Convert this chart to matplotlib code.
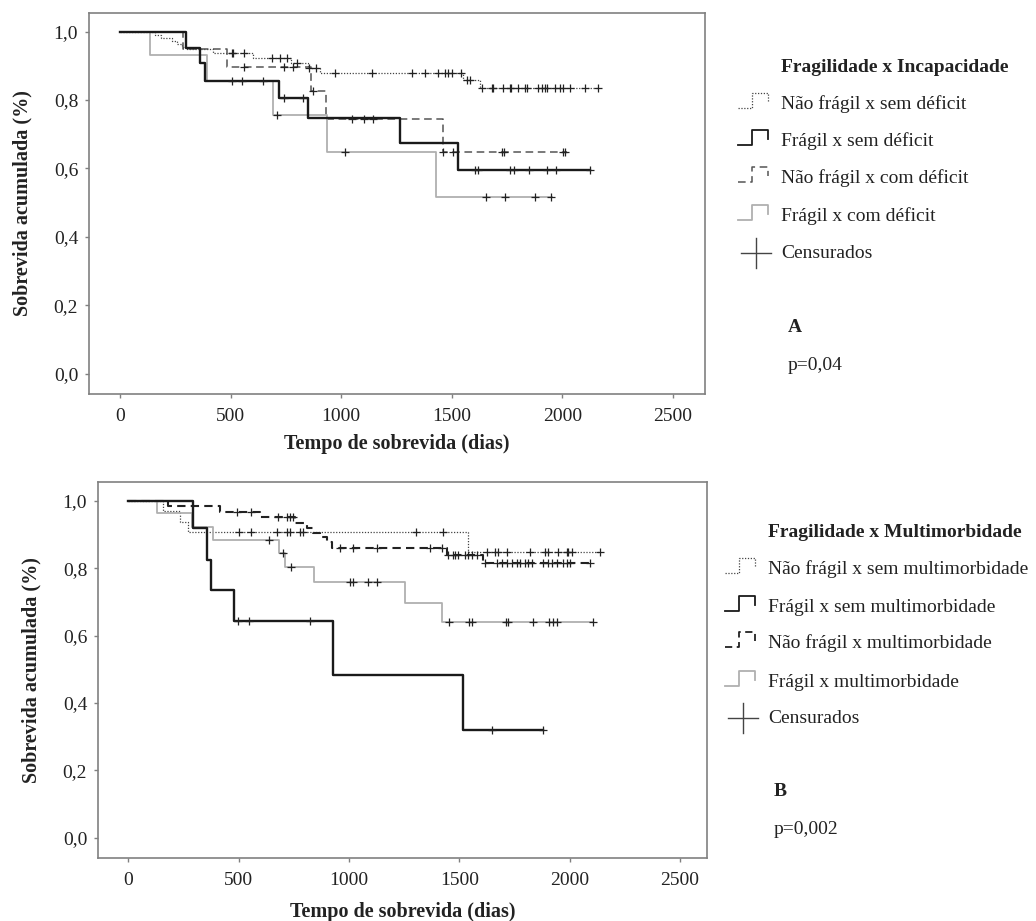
import numpy as np
import matplotlib
matplotlib.use("Agg")
import matplotlib.pyplot as plt
from matplotlib.lines import Line2D
from matplotlib.ticker import FuncFormatter

plt.rcParams['font.family'] = ['Liberation Serif', 'DejaVu Serif']

# ---- Painel A: Fragilidade x Incapacidade ----
a_labels = ["Não frágil x sem déficit", "Frágil x sem déficit",
            "Não frágil x com déficit", "Frágil x com déficit"]
a1_t = [0, 158, 186, 235, 258, 280, 301, 422, 603, 775, 850, 904, 1552, 1627]
a1_s = [1.0, 0.991, 0.982, 0.973, 0.965, 0.956, 0.948, 0.937, 0.922, 0.907, 0.893, 0.878, 0.857, 0.834]
a1_end = 2163
a1_cens = [505, 512, 561, 686, 723, 754, 799, 855, 885, 972, 1138, 1318, 1379, 1439, 1469, 1484,
           1499, 1542, 1567, 1582, 1635, 1680, 1688, 1733, 1763, 1770, 1801, 1831, 1838, 1891,
           1906, 1921, 1929, 1966, 1989, 2004, 2034, 2102, 2163]
a2_t = [0, 298, 362, 384, 720, 851, 1266, 1530]
a2_s = [1.0, 0.951, 0.907, 0.856, 0.805, 0.748, 0.673, 0.595]
a2_end = 2125
a2_cens = [505, 550, 645, 743, 829, 1603, 1619, 1762, 1782, 1851, 1929, 1971, 2125]
a3_t = [0, 286, 482, 863, 931, 1459]
a3_s = [1.0, 0.948, 0.895, 0.826, 0.744, 0.649]
a3_end = 2019
a3_cens = [561, 743, 783, 871, 1050, 1103, 1145, 1462, 1504, 1726, 1736, 2001, 2012]
a4_t = [0, 136, 392, 690, 934, 1429]
a4_s = [1.0, 0.932, 0.856, 0.756, 0.647, 0.517]
a4_end = 1951
a4_cens = [708, 1017, 1654, 1741, 1876, 1947]

# ---- Painel B: Fragilidade x Multimorbidade ----
b_labels = ["Não frágil x sem multimorbidade", "Frágil x sem multimorbidade",
            "Não frágil x multimorbidade", "Frágil x multimorbidade"]
b1_t = [0, 159, 234, 272, 1541]
b1_s = [1.0, 0.970, 0.938, 0.908, 0.849]
b1_end = 2137
b1_cens = [503, 554, 672, 717, 733, 778, 790, 1304, 1425, 1624, 1662, 1677, 1715, 1820,
           1888, 1903, 1948, 1986, 1994, 2009, 2137]
b2_t = [0, 295, 355, 375, 480, 926, 1515]
b2_s = [1.0, 0.918, 0.825, 0.734, 0.642, 0.482, 0.321]
b2_end = 1878
b2_cens = [496, 547, 823, 1650, 1878]
b3_t = [0, 181, 415, 597, 755, 808, 838, 868, 899, 921, 1445, 1606]
b3_s = [1.0, 0.984, 0.968, 0.951, 0.933, 0.918, 0.904, 0.893, 0.879, 0.859, 0.839, 0.815]
b3_end = 2092
b3_cens = [491, 556, 680, 717, 733, 744, 959, 1020, 1125, 1367, 1420, 1450, 1473, 1480, 1495,
           1525, 1541, 1556, 1579, 1617, 1669, 1692, 1715, 1737, 1760, 1775, 1797, 1813, 1828,
           1881, 1903, 1918, 1941, 1971, 1986, 2001, 2092]
b4_t = [0, 131, 287, 385, 684, 710, 843, 1254, 1420]
b4_s = [1.0, 0.963, 0.923, 0.884, 0.846, 0.803, 0.758, 0.698, 0.639]
b4_end = 2107
b4_cens = [639, 700, 736, 1004, 1017, 1087, 1128, 1455, 1545, 1556, 1712, 1722, 1835, 1908,
           1923, 1941, 2104]

x_ticks = [0, 500, 1000, 1500, 2000, 2500]
y_ticks = [0.0, 0.2, 0.4, 0.6, 0.8, 1.0]

# line styles for the four groups (same order in both panels)
styles_a = [dict(color="#444444", lw=0.9, ls=(0, (1, 1.3))),
            dict(color="#1a1a1a", lw=1.7, ls="-"),
            dict(color="#555555", lw=1.1, ls=(0, (5, 3))),
            dict(color="#b0b0b0", lw=1.3, ls="-")]
styles_b = [dict(color="#444444", lw=0.9, ls=(0, (1, 1.3))),
            dict(color="#1a1a1a", lw=1.7, ls="-"),
            dict(color="#222222", lw=1.5, ls=(0, (4, 2.5))),
            dict(color="#b0b0b0", lw=1.3, ls="-")]

W, H = 1036, 921
fig = plt.figure(figsize=(W / 100, H / 100), dpi=100)


def px(x, y):
    return x / W, 1 - y / H


def km(ax, t, s, end, cens, st):
    t = np.asarray(t, float)
    s = np.asarray(s, float)
    ax.step(np.append(t, end), np.append(s, s[-1]), where="post",
            color=st["color"], lw=st["lw"], ls=st["ls"], zorder=3)
    c = np.asarray(cens, float)
    cy = s[np.searchsorted(t, c, side="right") - 1]
    ax.plot(c, cy, ls="none", marker="+", ms=5.5, mew=0.9, color="#222222", zorder=4)


def setup(ax, xlim, xlab_y):
    ax.set_xlim(*xlim)
    ax.set_ylim(-0.06, 1.055)
    ax.set_xticks(x_ticks)
    ax.set_yticks(y_ticks)
    ax.yaxis.set_major_formatter(FuncFormatter(lambda v, p: f"{v:.1f}".replace(".", ",")))
    for sp in ax.spines.values():
        sp.set_color("#808080")
        sp.set_linewidth(1.2)
    ax.tick_params(direction="out", length=3, width=1, color="#808080",
                   labelsize=14, labelcolor="#222222", pad=5)
    ax.tick_params(axis="x", pad=7)
    ax.set_xlabel("Tempo de sobrevida (dias)", fontsize=14.5, fontweight="bold", color="#222222")
    ax.set_ylabel("Sobrevida acumulada (%)", fontsize=14.5, fontweight="bold", color="#222222")
    ax.xaxis.set_label_coords(0.5, xlab_y)
    ax.yaxis.set_label_coords(-0.093, 0.5)


def legend_block(x_text, y_title, rows, labels, styles, letter, pval, y_letter, y_p, x_letter):
    fig.text(*px(x_text, y_title), labels[0], fontsize=14, fontweight="bold",
             va="center", ha="left", color="#222222")
    x0 = x_text - 43
    for yr, lab, st in zip(rows[:4], labels[1:], styles):
        xs = [x0, x0 + 14, x0 + 14, x0 + 30, x0 + 30]
        ys = [yr + 4, yr + 4, yr - 11, yr - 11, yr - 2]
        fx, fy = zip(*[px(a, b) for a, b in zip(xs, ys)])
        fig.add_artist(Line2D(fx, fy, color=st["color"], lw=min(st["lw"], 1.3), ls=st["ls"]))
        fig.text(*px(x_text, yr), lab, fontsize=14, va="center", ha="left", color="#222222")
    yc = rows[4]
    cx = x_text - 25
    fig.add_artist(Line2D(*zip(*[px(cx - 15, yc), px(cx + 15, yc)]), color="#444444", lw=1))
    fig.add_artist(Line2D(*zip(*[px(cx, yc - 15), px(cx, yc + 15)]), color="#444444", lw=1))
    fig.text(*px(x_text, yc), "Censurados", fontsize=14, va="center", ha="left", color="#222222")
    fig.text(*px(x_letter, y_letter), letter, fontsize=14, fontweight="bold",
             va="center", ha="left", color="#222222")
    fig.text(*px(x_letter, y_p), pval, fontsize=14, va="center", ha="left", color="#222222")


# top panel
ax1 = fig.add_axes([89.3 / W, 1 - 394.3 / H, (705 - 89.3) / W, (394.3 - 12.7) / H])
km(ax1, a1_t, a1_s, a1_end, a1_cens, styles_a[0])
km(ax1, a3_t, a3_s, a3_end, a3_cens, styles_a[2])
km(ax1, a4_t, a4_s, a4_end, a4_cens, styles_a[3])
km(ax1, a2_t, a2_s, a2_end, a2_cens, styles_a[1])
setup(ax1, (-139, 2645), -0.103)

# bottom panel
ax2 = fig.add_axes([98.3 / W, 1 - 858 / H, (707 - 98.3) / W, (858 - 482.3) / H])
km(ax2, b1_t, b1_s, b1_end, b1_cens, styles_b[0])
km(ax2, b3_t, b3_s, b3_end, b3_cens, styles_b[2])
km(ax2, b4_t, b4_s, b4_end, b4_cens, styles_b[3])
km(ax2, b2_t, b2_s, b2_end, b2_cens, styles_b[1])
setup(ax2, (-136, 2622), -0.117)

legend_block(781, 68, [104, 141, 178, 216, 253],
             ["Fragilidade x Incapacidade"] + a_labels, styles_a,
             "A", "p=0,04", 328, 365, 788)
legend_block(768, 532, [569, 607, 643, 682, 718],
             ["Fragilidade x Multimorbidade"] + b_labels, styles_b,
             "B", "p=0,002", 791, 830, 774)

fig.savefig("out.png", dpi=100)
